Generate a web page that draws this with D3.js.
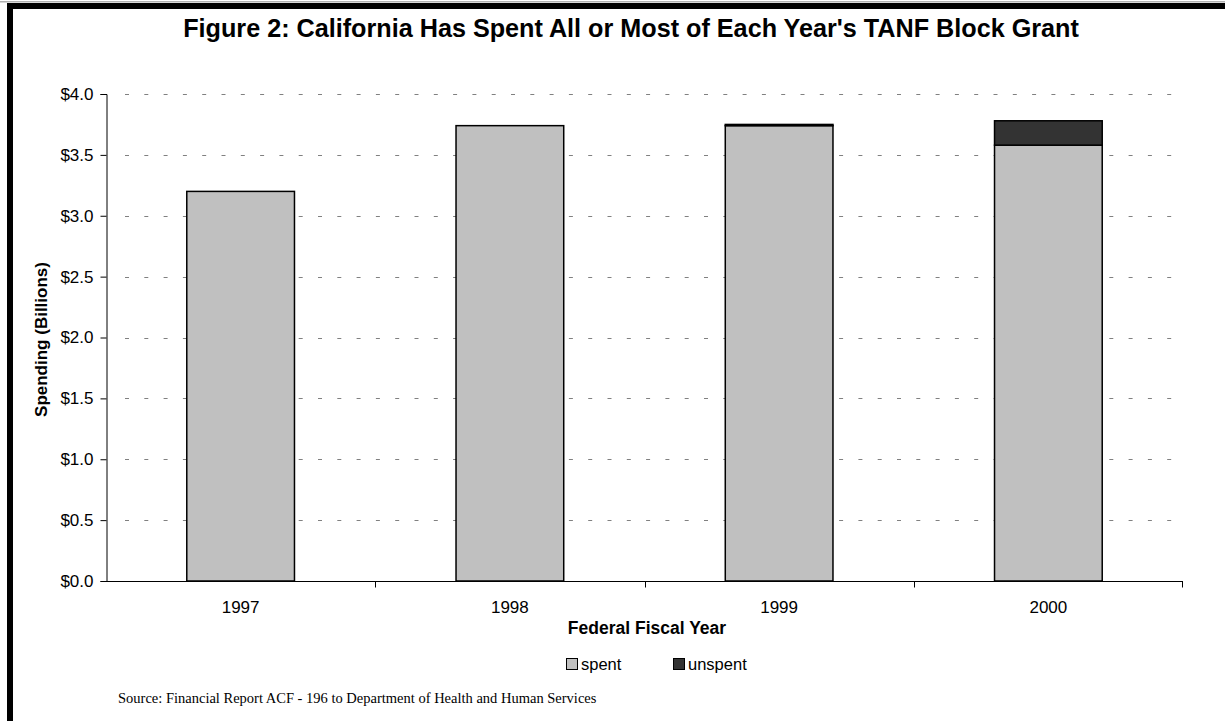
<!DOCTYPE html>
<html>
<head>
<meta charset="utf-8">
<script src="https://cdn.jsdelivr.net/npm/d3@7"></script>
<style>
  html, body { margin: 0; padding: 0; background: #fff; }
  svg { display: block; }
</style>
</head>
<body>
<svg id="chart" width="1225" height="721"></svg>
<script>
// TANF block grant spending by federal fiscal year (billions of dollars)
const years = ["1997", "1998", "1999", "2000"];
const spent = [3.20, 3.74, 3.74, 3.58];
const unspent = [0.00, 0.00, 0.01, 0.20];
const yTicks = [0, 0.5, 1.0, 1.5, 2.0, 2.5, 3.0, 3.5, 4.0];
const seriesNames = ["spent", "unspent"];
const seriesColors = ["#c0c0c0", "#333333"];

const svg = d3.select("#chart");
const W = 1225, H = 721;
const SANS = "Liberation Sans, Arial, sans-serif";

// Frame: heavy rule along the top and left edges
svg.append("rect").attr("x", 0).attr("y", 1).attr("width", W).attr("height", 1.5).attr("fill", "#b0b0b0");
svg.append("rect").attr("x", 7).attr("y", 3).attr("width", W - 7).attr("height", 6).attr("fill", "#000");
svg.append("rect").attr("x", 7).attr("y", 3).attr("width", 6).attr("height", H - 3).attr("fill", "#000");

const plot = { left: 106, right: 1183, top: 94, bottom: 581 };

const x = d3.scaleBand().domain(years).range([plot.left, plot.right]).paddingInner(0).paddingOuter(0);
const y = d3.scaleLinear().domain([0, 4]).range([plot.bottom, plot.top]);

// Title
svg.append("text")
  .attr("x", 631).attr("y", 37)
  .attr("text-anchor", "middle")
  .attr("font-family", SANS)
  .attr("font-weight", "bold")
  .attr("font-size", 25.2)
  .text("Figure 2: California Has Spent All or Most of Each Year's TANF Block Grant");

// Dashed horizontal gridlines
svg.append("g").selectAll("line")
  .data(yTicks.filter(d => d > 0))
  .join("line")
  .attr("x1", plot.left + 19).attr("x2", plot.right)
  .attr("y1", d => Math.round(y(d)) + 0.5).attr("y2", d => Math.round(y(d)) + 0.5)
  .attr("stroke", "#808080")
  .attr("stroke-width", 1)
  .attr("stroke-dasharray", "4,15.3");

// Stacked bars
const stackData = years.map((yr, i) => ({ year: yr, spent: spent[i], unspent: unspent[i] }));
const stacked = d3.stack().keys(seriesNames)(stackData);
const barW = x.bandwidth() * 0.4;

svg.append("g").selectAll("g")
  .data(stacked)
  .join("g")
  .attr("fill", (d, i) => seriesColors[i])
  .selectAll("rect")
  .data(d => d.filter(s => s[1] - s[0] > 0))
  .join("rect")
  .attr("x", d => x(d.data.year) + (x.bandwidth() - barW) / 2)
  .attr("y", d => y(d[1]))
  .attr("width", barW)
  .attr("height", d => y(d[0]) - y(d[1]))
  .attr("stroke", "#000")
  .attr("stroke-width", 1.5);

// Y axis
const yAxis = svg.append("g")
  .attr("transform", `translate(${plot.left + 0.5},0)`)
  .call(d3.axisLeft(y).tickValues(yTicks).tickSize(6).tickPadding(7)
    .tickFormat(d => "$" + d3.format(".1f")(d)));
yAxis.select(".domain").attr("stroke", "#000");
yAxis.selectAll(".tick line").attr("stroke", "#000");
yAxis.selectAll("text")
  .attr("font-family", SANS)
  .attr("font-size", 17)
  .attr("fill", "#000");

// X axis with ticks at category boundaries
const xAxisG = svg.append("g").attr("transform", `translate(0,${plot.bottom + 0.5})`);
xAxisG.append("line")
  .attr("x1", plot.left).attr("x2", plot.right)
  .attr("stroke", "#000");
xAxisG.selectAll("line.tick")
  .data(years.slice(1).concat(["end"]))
  .join("line")
  .attr("class", "tick")
  .attr("x1", d => d === "end" ? plot.right - 0.5 : Math.round(x(d)) + 0.5)
  .attr("x2", d => d === "end" ? plot.right - 0.5 : Math.round(x(d)) + 0.5)
  .attr("y1", 0).attr("y2", 6)
  .attr("stroke", "#000");
xAxisG.selectAll("text")
  .data(years)
  .join("text")
  .attr("x", d => x(d) + x.bandwidth() / 2)
  .attr("y", 31)
  .attr("text-anchor", "middle")
  .attr("font-family", SANS)
  .attr("font-size", 17)
  .text(d => d);

// Axis titles
svg.append("text")
  .attr("transform", `translate(47,${(plot.top + plot.bottom) / 2 + 2}) rotate(-90)`)
  .attr("text-anchor", "middle")
  .attr("font-family", SANS)
  .attr("font-weight", "bold")
  .attr("font-size", 17)
  .text("Spending (Billions)");

svg.append("text")
  .attr("x", 647).attr("y", 634)
  .attr("text-anchor", "middle")
  .attr("font-family", SANS)
  .attr("font-weight", "bold")
  .attr("font-size", 17.5)
  .text("Federal Fiscal Year");

// Legend
const legendX = [566, 673];
const legend = svg.append("g").selectAll("g")
  .data(seriesNames)
  .join("g")
  .attr("transform", (d, i) => `translate(${legendX[i]},658)`);
legend.append("rect")
  .attr("x", 0.5).attr("y", 0.5)
  .attr("width", 11).attr("height", 11)
  .attr("fill", (d, i) => seriesColors[i])
  .attr("stroke", "#000");
legend.append("text")
  .attr("x", 15).attr("y", 12)
  .attr("font-family", SANS)
  .attr("font-size", 16.5)
  .text(d => d);

// Source note
svg.append("text")
  .attr("x", 118).attr("y", 703)
  .attr("font-family", "Liberation Serif, Times New Roman, serif")
  .attr("font-size", 14.5)
  .text("Source: Financial Report ACF - 196 to Department of Health and Human Services");
</script>
</body>
</html>
